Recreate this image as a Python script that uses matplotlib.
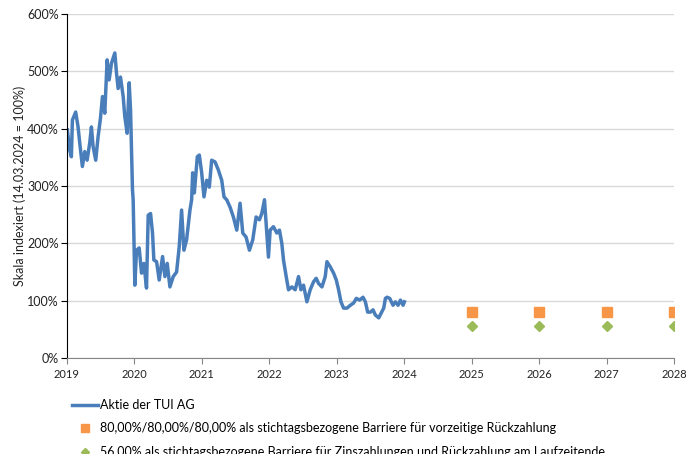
import numpy as np
import matplotlib
matplotlib.use('Agg')
import matplotlib.pyplot as plt
from matplotlib.lines import Line2D

plt.rcParams['font.family'] = ['Lato', 'DejaVu Sans']

# share price of TUI AG, indexed (14.03.2024 = 100%)
years = [2019.005, 2019.040, 2019.065, 2019.080, 2019.129, 2019.164, 2019.189,
         2019.228, 2019.263, 2019.298, 2019.337, 2019.362, 2019.387, 2019.426,
         2019.461, 2019.496, 2019.526, 2019.560, 2019.595, 2019.625, 2019.659,
         2019.709, 2019.734, 2019.758, 2019.793, 2019.833, 2019.857, 2019.892,
         2019.922, 2019.942, 2019.971, 2019.981, 2020.006, 2020.031, 2020.070,
         2020.105, 2020.140, 2020.179, 2020.204, 2020.239, 2020.268, 2020.288,
         2020.328, 2020.367, 2020.417, 2020.452, 2020.486, 2020.526, 2020.575,
         2020.625, 2020.664, 2020.699, 2020.734, 2020.773, 2020.823, 2020.848,
         2020.863, 2020.888, 2020.932, 2020.962, 2020.997, 2021.031, 2021.071,
         2021.110, 2021.145, 2021.195, 2021.244, 2021.294, 2021.328, 2021.368,
         2021.418, 2021.467, 2021.517, 2021.566, 2021.606, 2021.655, 2021.705,
         2021.754, 2021.804, 2021.853, 2021.888, 2021.928, 2021.962, 2021.987,
         2022.012, 2022.061, 2022.111, 2022.150, 2022.185, 2022.210, 2022.250,
         2022.284, 2022.334, 2022.383, 2022.433, 2022.468, 2022.507, 2022.557,
         2022.606, 2022.656, 2022.695, 2022.730, 2022.780, 2022.829, 2022.854,
         2022.903, 2022.953, 2022.993, 2023.027, 2023.062, 2023.101, 2023.151,
         2023.201, 2023.250, 2023.290, 2023.339, 2023.389, 2023.424, 2023.458,
         2023.498, 2023.538, 2023.572, 2023.622, 2023.657, 2023.696, 2023.721,
         2023.745, 2023.785, 2023.834, 2023.869, 2023.909, 2023.944, 2023.983,
         2024.003]
share = [398, 363, 351, 415, 429, 403, 375,
         334, 360, 345, 375, 403, 369, 345,
         386, 418, 456, 427, 520, 485, 514,
         532, 497, 470, 490, 456, 421, 392,
         480, 433, 293, 276, 127, 188, 192,
         148, 165, 122, 249, 252, 218, 171,
         168, 136, 177, 142, 165, 124, 142,
         150, 194, 258, 188, 206, 258, 276,
         323, 288, 351, 354, 323, 281, 310,
         298, 345, 342, 328, 310, 281, 276,
         263, 246, 223, 270, 218, 211, 188,
         206, 246, 241, 252, 276, 218, 176,
         223, 229, 218, 223, 200, 171, 142,
         119, 124, 119, 142, 119, 127, 98,
         119, 133, 139, 130, 124, 142, 168,
         159, 148, 136, 119, 98, 87, 87,
         92, 96, 104, 101, 106, 98, 80,
         80, 84, 75, 70, 78, 87, 104,
         106, 104, 92, 98, 92, 101, 92,
         98]

obs_years = [2025, 2026, 2027, 2028]
early_barrier = [80, 80, 80, 80]
coupon_barrier = [56, 56, 56, 56]

labels = ['Aktie der TUI AG',
          '80,00%/80,00%/80,00% als stichtagsbezogene Barriere für vorzeitige Rückzahlung',
          '56,00% als stichtagsbezogene Barriere für Zinszahlungen und Rückzahlung am Laufzeitende']

blue = '#4a7ebb'
orange = '#f79646'
green = '#9bbb59'
ftsize = 9

fig = plt.figure(figsize=(6.86, 4.54), dpi=100)
ax = fig.add_axes([67/686, 1-358/454, (674-67)/686, (358-14)/454])

ax.plot(years, share, color=blue, lw=2.5, solid_joinstyle='round')
ax.plot(obs_years, early_barrier, ls='none', marker='s', ms=7.0,
        color=orange, mec=orange)
ax.plot(obs_years, coupon_barrier, ls='none', marker='D', ms=5.0,
        color=green, mec=green)

ax.set_xlim(2019, 2028)
ax.set_ylim(0, 600)
ax.set_xticks(range(2019, 2029))
ax.set_yticks(range(0, 601, 100))
ax.set_yticklabels(['{:d}%'.format(v) for v in range(0, 601, 100)])
ax.yaxis.grid(True, color='#d9d9d9', lw=1)
ax.set_axisbelow(True)

for s in ['top', 'right']:
    ax.spines[s].set_visible(False)
ax.spines['left'].set_color('black')
ax.spines['bottom'].set_color('#868686')
ax.tick_params(axis='y', length=4, color='black', labelsize=ftsize,
               labelcolor='#222222', pad=2)
ax.tick_params(axis='x', length=4, color='#868686', labelsize=8,
               labelcolor='#222222', pad=4)
ax.set_ylabel('Skala indexiert (14.03.2024 = 100%)', fontsize=ftsize,
              color='#222222', labelpad=1)

handles = [Line2D([], [], color=blue, lw=2.5),
           Line2D([], [], ls='none', marker='s', ms=5.5, color=orange),
           Line2D([], [], ls='none', marker='D', ms=4.0, color=green)]
fig.legend(handles, labels, loc='upper left',
           bbox_to_anchor=(72/686, 1-399/454), frameon=False,
           fontsize=ftsize, handlelength=2.1, handletextpad=0.15,
           labelspacing=0.92, borderaxespad=0, borderpad=0)

fig.savefig('out.png', dpi=100)
